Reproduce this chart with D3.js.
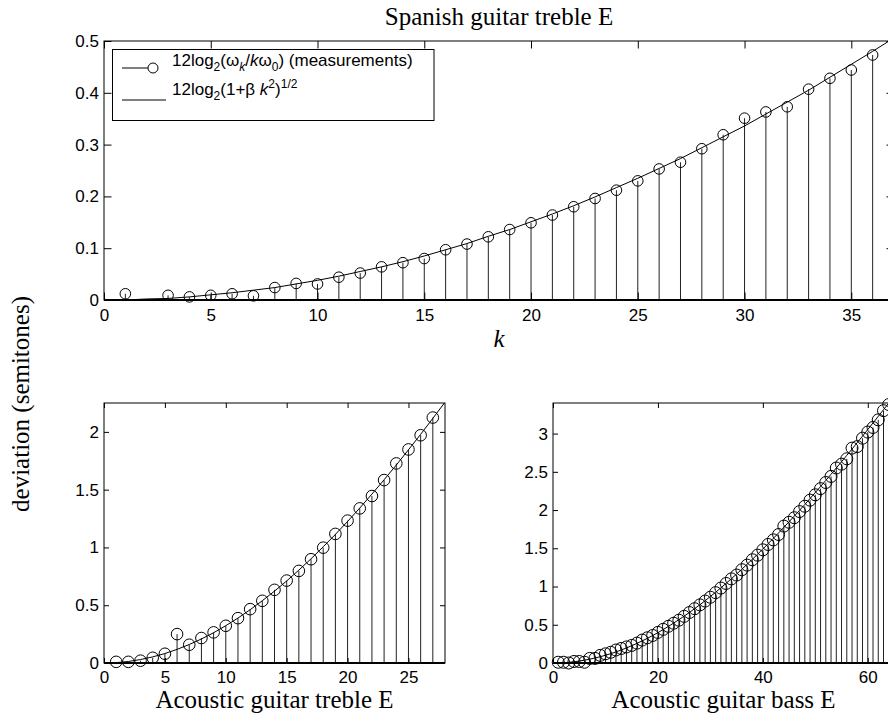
<!DOCTYPE html>
<html>
<head>
<meta charset="utf-8">
<script src="https://cdn.jsdelivr.net/npm/d3@7"></script>
<style>
  body { margin: 0; background: #fff; }
  svg { display: block; }
  .tick text { font-family: "Liberation Sans", Arial, sans-serif; font-size: 17px; fill: #000; }
  .serif { font-family: "Liberation Serif", "Times New Roman", serif; fill: #000; }
  .legend text { font-family: "Liberation Sans", Arial, sans-serif; font-size: 17px; fill: #000; }
</style>
</head>
<body>
<svg id="chart"></svg>
<script>
// Spanish guitar treble E (measurements; k = 2 missing)
const spanishK = [1, 3, 4, 5, 6, 7, 8, 9, 10, 11, 12, 13, 14, 15, 16, 17, 18, 19, 20,
    21, 22, 23, 24, 25, 26, 27, 28, 29, 30, 31, 32, 33, 34, 35, 36];
const spanishMeas = [0.012, 0.009, 0.006, 0.009, 0.012, 0.008, 0.024, 0.032, 0.031, 0.044,
    0.052, 0.064, 0.072, 0.080, 0.097, 0.108, 0.122, 0.136, 0.149, 0.164, 0.180, 0.196,
    0.212, 0.230, 0.253, 0.266, 0.292, 0.319, 0.351, 0.363, 0.373, 0.407, 0.428, 0.444, 0.473];
// fitted curve, k = 1..37
const spanishFit = [0.000, 0.002, 0.003, 0.006, 0.010, 0.014, 0.019, 0.024, 0.031, 0.038,
    0.046, 0.055, 0.064, 0.074, 0.085, 0.097, 0.109, 0.123, 0.136, 0.151, 0.166, 0.182,
    0.199, 0.217, 0.235, 0.254, 0.273, 0.294, 0.315, 0.336, 0.359, 0.382, 0.405, 0.430,
    0.455, 0.480, 0.506];

// Acoustic guitar treble E, k = 1..27 (fit k = 1..28)
const trebleMeas = [0.01, 0.01, 0.02, 0.045, 0.08, 0.25, 0.158, 0.216, 0.265, 0.322,
    0.388, 0.466, 0.538, 0.633, 0.713, 0.797, 0.898, 0.998, 1.117, 1.232, 1.338, 1.445,
    1.583, 1.727, 1.848, 1.971, 2.124];
const trebleFit = [0.003, 0.013, 0.030, 0.053, 0.082, 0.118, 0.160, 0.208, 0.262, 0.323,
    0.389, 0.461, 0.539, 0.622, 0.710, 0.804, 0.902, 1.006, 1.113, 1.225, 1.341, 1.462,
    1.586, 1.713, 1.845, 1.979, 2.117, 2.257];

// Acoustic guitar bass E, k = 1..64
const bassMeas = [0.01, 0.01, 0.00, 0.02, 0.02, 0.01, 0.06, 0.06, 0.10, 0.12,
    0.14, 0.17, 0.19, 0.21, 0.23, 0.26, 0.30, 0.33, 0.36, 0.40,
    0.44, 0.48, 0.52, 0.56, 0.61, 0.66, 0.71, 0.76, 0.81, 0.86,
    0.92, 0.98, 1.04, 1.10, 1.15, 1.22, 1.28, 1.35, 1.41, 1.48,
    1.55, 1.61, 1.68, 1.79, 1.84, 1.90, 1.98, 2.05, 2.13, 2.20,
    2.28, 2.36, 2.44, 2.55, 2.60, 2.67, 2.81, 2.83, 2.94, 3.02,
    3.08, 3.18, 3.30, 3.38];
const bassFit = [0.001, 0.004, 0.009, 0.016, 0.025, 0.037, 0.050, 0.065, 0.082, 0.101,
    0.122, 0.145, 0.170, 0.197, 0.226, 0.257, 0.289, 0.323, 0.360, 0.397,
    0.437, 0.479, 0.522, 0.567, 0.613, 0.661, 0.711, 0.762, 0.815, 0.870,
    0.926, 0.983, 1.042, 1.102, 1.164, 1.227, 1.291, 1.356, 1.423, 1.491,
    1.560, 1.630, 1.701, 1.774, 1.847, 1.922, 1.997, 2.073, 2.151, 2.229,
    2.308, 2.388, 2.468, 2.550, 2.632, 2.715, 2.798, 2.882, 2.967, 3.053,
    3.139, 3.225, 3.313, 3.400];

// tick labels
const spanishXTicks = [0, 5, 10, 15, 20, 25, 30, 35];
const spanishYTicks = [0, 0.1, 0.2, 0.3, 0.4, 0.5];
const trebleXTicks = [0, 5, 10, 15, 20, 25];
const trebleYTicks = [0, 0.5, 1, 1.5, 2];
const bassXTicks = [0, 20, 40, 60];
const bassYTicks = [0, 0.5, 1, 1.5, 2, 2.5, 3];

const W = 888, H = 719;
const svg = d3.select("#chart").attr("width", W).attr("height", H);
svg.append("rect").attr("width", W).attr("height", H).attr("fill", "#fff");

let clipId = 0;
function panel(opt) {
    const x = d3.scaleLinear().domain(opt.xDomain).range([opt.left, opt.right]);
    const y = d3.scaleLinear().domain(opt.yDomain).range([opt.bottom, opt.top]);
    const g = svg.append("g");
    const id = "clip" + (clipId++);
    svg.append("clipPath").attr("id", id).append("rect")
        .attr("x", opt.left).attr("y", opt.top)
        .attr("width", opt.right - opt.left).attr("height", opt.bottom - opt.top);

    // stems
    g.selectAll("line.stem")
        .data(opt.meas)
        .enter()
        .append("line")
        .attr("class", "stem")
        .attr("x1", d => x(d[0])).attr("x2", d => x(d[0]))
        .attr("y1", y(0)).attr("y2", d => y(d[1]))
        .attr("stroke", "#222").attr("stroke-width", 1);

    // fitted curve
    const line = d3.line().x(d => x(d[0])).y(d => y(d[1]));
    g.append("path")
        .datum(opt.fit)
        .attr("clip-path", `url(#${id})`)
        .attr("fill", "none")
        .attr("stroke", "#000")
        .attr("stroke-width", 1)
        .attr("d", line);

    // markers
    g.selectAll("circle")
        .data(opt.meas)
        .enter()
        .append("circle")
        .attr("cx", d => x(d[0]))
        .attr("cy", d => y(d[1]))
        .attr("r", opt.r)
        .attr("fill", "none")
        .attr("stroke", "#000")
        .attr("stroke-width", 1);

    // axes, ticks pointing inward
    const tl = opt.tickLen;
    g.append("g").attr("transform", `translate(0,${opt.bottom})`)
        .call(d3.axisBottom(x).tickValues(opt.xTicks).tickSizeInner(-tl).tickSizeOuter(0)
            .tickPadding(opt.xPad).tickFormat(d3.format("")));
    g.append("g").attr("transform", `translate(0,${opt.top})`)
        .call(d3.axisTop(x).tickValues(opt.xTicks).tickSizeInner(-tl).tickSizeOuter(0)
            .tickFormat(""));
    g.append("g").attr("transform", `translate(${opt.left},0)`)
        .call(d3.axisLeft(y).tickValues(opt.yTicks).tickSizeInner(-tl).tickSizeOuter(0)
            .tickPadding(5).tickFormat(d3.format("")));
    g.append("g").attr("transform", `translate(${opt.right},0)`)
        .call(d3.axisRight(y).tickValues(opt.yTicks).tickSizeInner(-tl).tickSizeOuter(0)
            .tickFormat(""));
    g.selectAll(".domain").remove();
    g.selectAll(".tick line").attr("stroke", "#000");

    // box + stem baseline
    g.append("rect")
        .attr("x", opt.left).attr("y", opt.top)
        .attr("width", opt.right - opt.left).attr("height", opt.bottom - opt.top)
        .attr("fill", "none").attr("stroke", "#000").attr("stroke-width", 1);
    g.append("line")
        .attr("x1", opt.left).attr("x2", opt.right)
        .attr("y1", y(0)).attr("y2", y(0))
        .attr("stroke", "#000").attr("stroke-width", 2);
    return { x, y };
}

panel({
    left: 104, right: 894, top: 41, bottom: 300,
    xDomain: [0, 37], yDomain: [0, 0.5],
    meas: spanishK.map((k, i) => [k, spanishMeas[i]]),
    fit: spanishFit.map((v, i) => [i + 1, v]),
    xTicks: spanishXTicks, yTicks: spanishYTicks,
    tickLen: 7.5, xPad: 9, r: 5.3
});
panel({
    left: 104, right: 445, top: 403, bottom: 663,
    xDomain: [0, 28], yDomain: [0, 2.25],
    meas: trebleMeas.map((v, i) => [i + 1, v]),
    fit: trebleFit.map((v, i) => [i + 1, v]),
    xTicks: trebleXTicks, yTicks: trebleYTicks,
    tickLen: 5, xPad: 8, r: 5.8
});
panel({
    left: 553, right: 894, top: 403, bottom: 663,
    xDomain: [0, 65], yDomain: [0, 3.4],
    meas: bassMeas.map((v, i) => [i + 1, v]),
    fit: bassFit.map((v, i) => [i + 1, v]),
    xTicks: bassXTicks, yTicks: bassYTicks,
    tickLen: 5, xPad: 8, r: 6
});

// titles and labels
svg.append("text").attr("class", "serif")
    .attr("x", 499).attr("y", 25).attr("text-anchor", "middle")
    .attr("font-size", 25).text("Spanish guitar treble E");
svg.append("text").attr("class", "serif")
    .attr("x", 499).attr("y", 347).attr("text-anchor", "middle")
    .attr("font-size", 25).attr("font-style", "italic").text("k");
svg.append("text").attr("class", "serif")
    .attr("x", 274.5).attr("y", 708).attr("text-anchor", "middle")
    .attr("font-size", 25).text("Acoustic guitar treble E");
svg.append("text").attr("class", "serif")
    .attr("x", 723.5).attr("y", 708).attr("text-anchor", "middle")
    .attr("font-size", 25).text("Acoustic guitar bass E");
svg.append("text").attr("class", "serif")
    .attr("transform", "translate(29,404) rotate(-90)")
    .attr("text-anchor", "middle")
    .attr("font-size", 25).text("deviation (semitones)");

// legend
const lg = svg.append("g").attr("class", "legend");
lg.append("rect").attr("x", 112.5).attr("y", 49.5).attr("width", 321.5).attr("height", 71)
    .attr("fill", "#fff").attr("stroke", "#000").attr("stroke-width", 1);
lg.append("line").attr("x1", 122).attr("x2", 148).attr("y1", 68).attr("y2", 68)
    .attr("stroke", "#000");
lg.append("circle").attr("cx", 153).attr("cy", 68).attr("r", 5)
    .attr("fill", "none").attr("stroke", "#000");
lg.append("line").attr("x1", 122).attr("x2", 166).attr("y1", 100).attr("y2", 100)
    .attr("stroke", "#000");

// rich text: each segment carries its own baseline offset (0 normal, >0 sub, <0 sup)
function richText(x, y, segs) {
    const t = lg.append("text").attr("x", x).attr("y", y);
    let cur = 0;
    segs.forEach(s => {
        const off = s.shift || 0;
        const sp = t.append("tspan").attr("dy", off - cur).text(s.t);
        if (off !== 0) sp.attr("font-size", 12);
        if (s.i) sp.attr("font-style", "italic");
        cur = off;
    });
}
richText(172, 66, [
    { t: "12log" }, { t: "2", shift: 5 }, { t: "(ω" }, { t: "k", shift: 5, i: true },
    { t: "/" }, { t: "k", i: true }, { t: "ω" }, { t: "0", shift: 5 },
    { t: ") (measurements)" }
]);
richText(172, 95, [
    { t: "12log" }, { t: "2", shift: 5 }, { t: "(1+β " }, { t: "k", i: true },
    { t: "2", shift: -7 }, { t: ")" }, { t: "1/2", shift: -7 }
]);
</script>
</body>
</html>
